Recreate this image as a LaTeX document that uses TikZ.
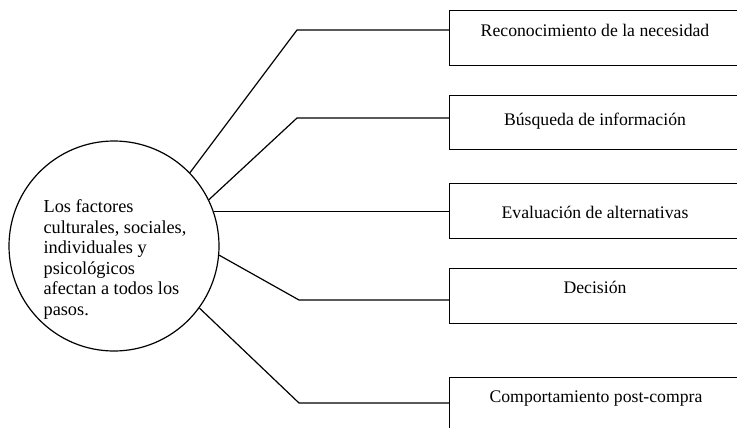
\documentclass[tikz,border=0pt]{standalone}
\usepackage{fontspec}
\setmainfont{Liberation Serif}
\begin{document}
\begin{tikzpicture}[x=1pt,y=-1pt,line width=1.2pt,
  stepbox/.style={draw,rectangle,minimum width=320pt,minimum height=55pt,anchor=north west,inner sep=0pt},
  steptext/.style={font=\fontsize{17.7}{20.5}\selectfont,inner sep=0pt,anchor=base},
  link/.style={draw,line join=miter}]
\useasboundingbox (0,0) rectangle (737,428);
\clip (0,0) rectangle (737,428);
\node[draw,circle,minimum size=210pt,inner sep=0pt] (circ) at (114,246) {};
\node[align=left,font=\fontsize{18.3}{20.5}\selectfont,inner sep=0pt,anchor=base west] (ctext) at (43,315)
  {Los factores\\culturales, sociales,\\individuales y\\psicológicos\\afectan a todos los\\pasos.};
\node[stepbox] (b1) at (449,10) {};
\node[stepbox,minimum height=54pt] (b2) at (449,95) {};
\node[stepbox] (b3) at (449,183) {};
\node[stepbox] (b4) at (449,268) {};
\node[stepbox,minimum height=70pt] (b5) at (449,377) {};
\node[steptext] (t1) at (595,37) {Reconocimiento de la necesidad};
\node[steptext] (t2) at (595,125) {Búsqueda de información};
\node[steptext] (t3) at (595,218) {Evaluación de alternativas};
\node[steptext] (t4) at (595,293) {Decisión};
\node[steptext] (t5) at (596,402) {Comportamiento post-compra};
\coordinate (e1) at (297,30);
\coordinate (e2) at (297,118);
\coordinate (e4) at (299,300);
\coordinate (e5) at (299,403);
\draw[link] (circ.44.6) -- (e1) -- (e1 -| b1.west);
\draw[link] (circ.26.6) -- (e2) -- (e2 -| b2.west);
\draw[link] (circ.19) -- (circ.19 -| b3.west);
\draw[link] (circ.-5) -- (e4) -- (e4 -| b4.west);
\draw[link] (circ.-36) -- (e5) -- (e5 -| b5.west);
\end{tikzpicture}
\end{document}
